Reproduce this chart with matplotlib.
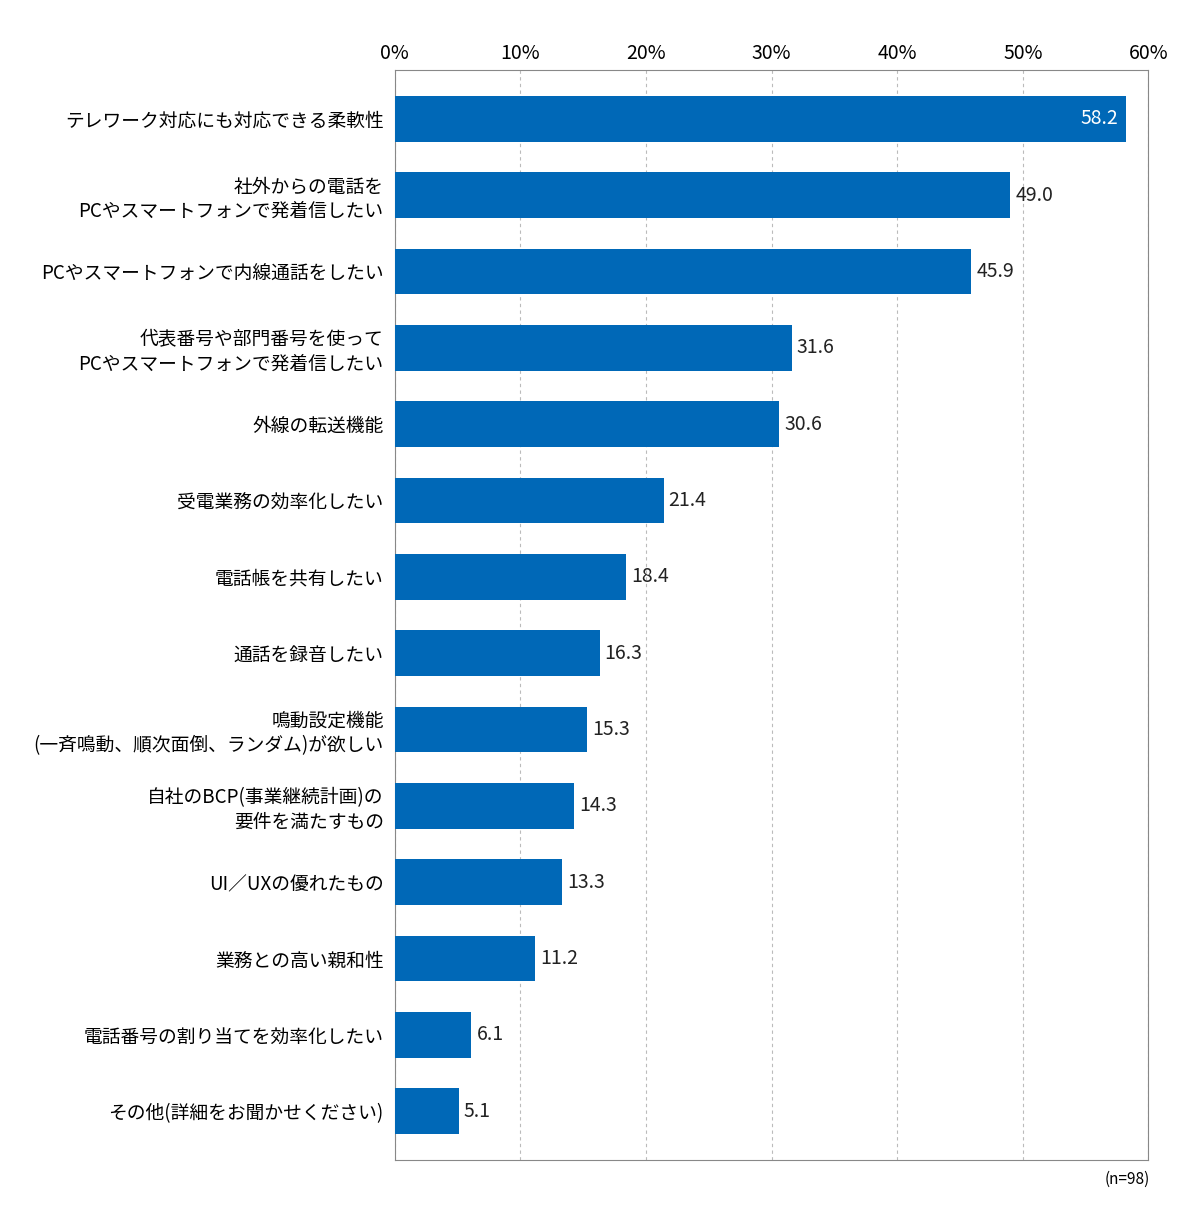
import matplotlib.pyplot as plt
import numpy as np

plt.rcParams['font.family'] = ['Noto Sans CJK JP', 'DejaVu Sans']

labels = ['テレワーク対応にも対応できる柔軟性',
          '社外からの電話を\nPCやスマートフォンで発着信したい',
          'PCやスマートフォンで内線通話をしたい',
          '代表番号や部門番号を使って\nPCやスマートフォンで発着信したい',
          '外線の転送機能',
          '受電業務の効率化したい',
          '電話帳を共有したい',
          '通話を録音したい',
          '鳴動設定機能\n(一斉鳴動、順次面倒、ランダム)が欲しい',
          '自社のBCP(事業継続計画)の\n要件を満たすもの',
          'UI／UXの優れたもの',
          '業務との高い親和性',
          '電話番号の割り当てを効率化したい',
          'その他(詳細をお聞かせください)']
values = [58.2, 49.0, 45.9, 31.6, 30.6, 21.4, 18.4, 16.3, 15.3, 14.3, 13.3, 11.2, 6.1, 5.1]
xticks = [0, 10, 20, 30, 40, 50, 60]

fig = plt.figure(figsize=(12, 12.28), dpi=100)
ax = fig.add_axes([0.329, 0.0554, 0.628, 0.8876])
y = np.arange(len(values))
ax.barh(y, values, height=0.6, color='#0068B7', zorder=3)
ax.set_ylim(len(values) - 0.36, -0.64)
ax.set_xlim(0, 60)
ax.set_xticks(xticks)
ax.set_xticklabels([f'{t}%' for t in xticks], fontsize=14)
ax.xaxis.tick_top()
ax.tick_params(axis='x', length=0, pad=4)
ax.grid(axis='x', linestyle=(0, (3, 3)), color='#bbbbbb', linewidth=0.8, zorder=0)
ax.set_yticks(y)
ax.set_yticklabels(labels, fontsize=13.5, linespacing=1.2)
ax.tick_params(axis='y', length=0, pad=8)
for s in ax.spines.values():
    s.set_color('#888888')
    s.set_linewidth(0.8)

for i, v in enumerate(values):
    if i == 0:
        ax.text(v - 0.6, i, f'{v:.1f}', ha='right', va='center', color='white', fontsize=14, zorder=4)
    else:
        ax.text(v + 0.4, i, f'{v:.1f}', ha='left', va='center', color='#222222', fontsize=14, zorder=4)

fig.text(0.958, 0.04, '(n=98)', ha='right', va='center', fontsize=11)
fig.savefig('out.png', dpi=100)
